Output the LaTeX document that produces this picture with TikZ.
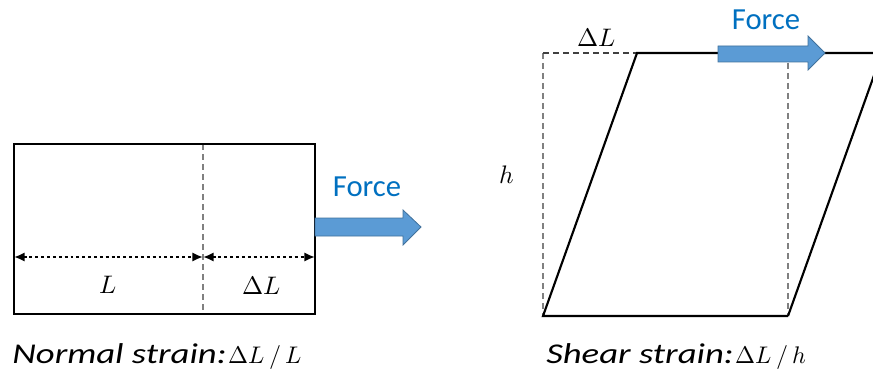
\documentclass[tikz,border=0pt]{standalone}
\usepackage{fontspec}
\usepackage{unicode-math}
\setmainfont{Carlito}
\setmathfont{Latin Modern Math}
\usetikzlibrary{arrows.meta}
\definecolor{forcetxt}{RGB}{0,112,192}
\definecolor{arrfill}{RGB}{91,155,213}
\definecolor{arredge}{RGB}{65,113,156}
\definecolor{dashgray}{RGB}{128,128,128}
\tikzset{
  solidedge/.style={line width=1.6pt, black, line join=miter},
  guide/.style={line width=1.5pt, dashgray, dash pattern=on 4.5pt off 3pt},
  guidedark/.style={line width=1.3pt, black!75, dash pattern=on 4.5pt off 3pt},
  dimarrow/.style={line width=1.8pt, black, dash pattern=on 2.2pt off 2.2pt, {Latex[length=8pt,width=7pt]}-{Latex[length=8pt,width=7pt]}},
  blockarrow/.style={fill=arrfill, draw=arredge, line width=0.6pt},
  forcelabel/.style={text=forcetxt, font=\fontsize{23}{26}\selectfont, inner sep=0pt},
  mathlabel/.style={font=\fontsize{19}{22}\selectfont, inner sep=0pt},
  caption/.style={inner sep=0pt}
}
\newcommand{\captxt}[2]{{\fontsize{21.5}{26}\selectfont\itshape\scalebox{1.28}[1]{#1}}\,{\fontsize{18}{20}\selectfont$#2$}}
\begin{document}
\begin{tikzpicture}[x=0.75pt,y=-0.75pt]
\useasboundingbox (0,0) rectangle (873,374);
\clip (0,0) rectangle (873,374);
% ---------- Left: normal strain ----------
\coordinate (A1) at (14,144);
\coordinate (A2) at (315,314);
\coordinate (Mt) at (203,144);
\coordinate (Mb) at (203,314);
\coordinate (DL) at (14,257);
\coordinate (DM) at (203,257);
\coordinate (DR) at (315,257);
\draw[guide] (Mt) -- (Mb);
\draw[solidedge] (A1) rectangle (A2);
\draw[dimarrow] (DL) -- (DM);
\draw[dimarrow] (DM) -- (DR);
\node[mathlabel] (lL) at (108,285) {$L$};
\node[mathlabel] (lDL) at (262,285) {$\Delta L$};
\draw[blockarrow] (315,218) -- (403,218) -- (403,210) -- (421,227) -- (403,245) -- (403,236) -- (315,236) -- cycle;
\node[forcelabel] (f1) at (367,187) {Force};
\node[caption, anchor=base west] (c1) at (12,363) {\captxt{Normal strain:}{\Delta L\,/\,L}};
% ---------- Right: shear strain ----------
\coordinate (BL) at (543,316);
\coordinate (BR) at (788,316);
\coordinate (TL) at (637,53);
\coordinate (TR) at (882,53);
\coordinate (GL) at (543,53);
\coordinate (GR) at (788,53);
\draw[guide] (GL) -- (BL);
\draw[guide] (GR) -- (BR);
\draw[guidedark] (GL) -- (TL);
\draw[solidedge] (BR) -- (BL) -- (TL) -- (TR);
\draw[solidedge] (BR) -- (TR);
\draw[blockarrow] (718,46) -- (808,46) -- (808,36) -- (825,53) -- (808,70) -- (808,62) -- (718,62) -- cycle;
\node[forcelabel] (f2) at (766,20) {Force};
\node[mathlabel] (tDL) at (597,37) {$\Delta L$};
\node[mathlabel] (hl) at (507,175) {$h$};
\node[caption, anchor=base west] (c2) at (546,363) {\captxt{Shear strain:}{\Delta L\,/\,h}};
\end{tikzpicture}
\end{document}
